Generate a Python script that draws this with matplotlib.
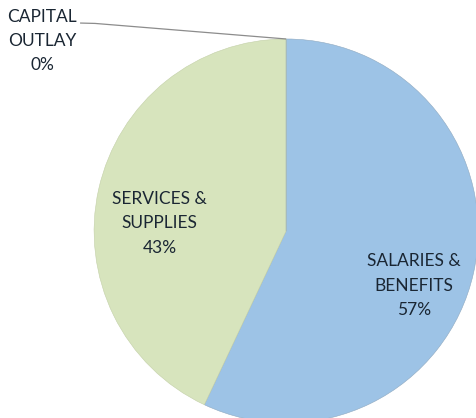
import matplotlib.pyplot as plt

# budget split, drawn clockwise from 12 o'clock
categories = ["SALARIES &\nBENEFITS", "SERVICES &\nSUPPLIES", "CAPITAL\nOUTLAY"]
shares = [57, 43, 0]
colors = ["#9dc3e6", "#d7e4bd", "#a5a5a5"]

plt.rcParams['font.family'] = ['Lato', 'DejaVu Sans']

fig = plt.figure(figsize=(4.77, 4.18), dpi=100)
ax = fig.add_axes([0, 0, 1, 1])

wedges, _ = ax.pie(shares, colors=colors, startangle=90, counterclock=False,
                   radius=1.0, wedgeprops=dict(edgecolor="#8fa9c0", linewidth=0.4))
wedges[1].set_edgecolor("#c3d0a8")

ax.set_xlim(-1.49, 0.994)
ax.set_ylim(-0.974, 1.203)
ax.set_aspect('auto')
ax.axis('off')

txt = dict(ha='center', va='center', fontsize=12.5, color='#1a2633', linespacing=1.62)

ax.text(0.665, -0.284, f"{categories[0]}\n{shares[0]}%", **txt)
ax.text(-0.659, 0.039, f"{categories[1]}\n{shares[1]}%", **txt)
ax.text(-1.27, 0.99, f"{categories[2]}\n{shares[2]}%", **txt)

# leader line for the zero slice
ax.plot([-1.073, -0.995, 0.0], [1.083, 1.081, 1.0], color='#8c8c8c', lw=0.9,
        solid_capstyle='butt')

fig.savefig("out.png", dpi=100, facecolor='white')
